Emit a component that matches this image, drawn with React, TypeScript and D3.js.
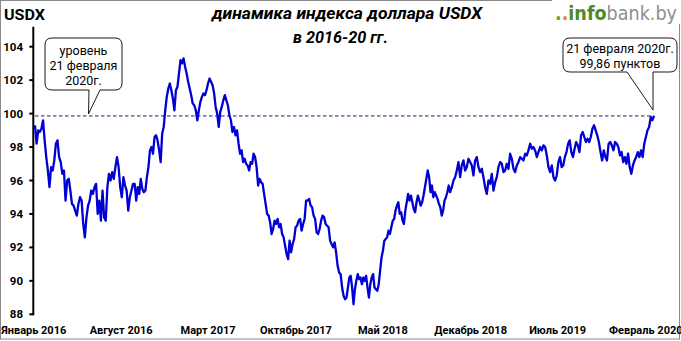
import React from "react";
import * as d3 from "d3";

const W = 681;
const H = 341;

const yTicks = [88, 90, 92, 94, 96, 98, 100, 102, 104];
const yAxisTop = 105.2;
const xTickDates = ["2016-01-01", "2016-08-01", "2017-03-01", "2017-10-01", "2018-05-01", "2018-12-01", "2019-07-01", "2020-02-01"];
const xTickLabels = ["Январь 2016", "Август 2016", "Март 2017", "Октябрь 2017", "Май 2018", "Декабрь 2018", "Июль 2019", "Февраль 2020"];

// boundaries of the reading periods (each period's values are spread evenly between its bounds)
const periodBounds = ["2016-01-04", "2016-09-03", "2017-05-18", "2018-01-29", "2018-10-12", "2019-06-25", "2020-02-21"];

const usdxP1 = [
  99.3, 98.2, 99.0, 98.9, 99.1, 99.6, 98.4, 97.4, 96.6, 95.6,
  96.8, 96.6, 97.2, 98.2, 98.4, 97.4, 97.1, 96.4, 96.6, 94.8,
  96.0, 96.1, 95.4, 94.6, 94.5, 94.2, 93.9, 94.6, 95.0, 94.8,
  93.4, 92.6, 93.8, 94.5, 94.8, 95.4, 95.2, 95.6, 95.8, 94.0,
  94.8, 93.6, 95.4, 93.8, 93.6, 95.6, 96.4, 96.0, 96.5, 96.1,
  96.8, 97.4, 96.8, 95.6, 95.0, 96.2, 95.7, 95.4, 94.2, 95.0,
  95.4, 95.8,
];
const usdxP2 = [
  95.8, 94.8, 95.6, 95.2, 96.1, 95.5, 95.3, 95.4, 96.2, 96.8,
  97.8, 98.0, 97.6, 98.6, 98.7, 98.4, 97.8, 97.1, 98.8, 99.2,
  100.2, 101.0, 101.5, 101.8, 101.4, 100.9, 100.2, 101.4, 101.6, 102.4,
  103.2, 103.0, 103.3, 102.8, 102.4, 101.9, 101.5, 101.1, 100.6, 100.5,
  100.2, 99.6, 100.2, 100.7, 101.0, 101.2, 101.1, 101.4, 101.8, 102.1,
  101.9, 101.7, 101.2, 100.4, 100.0, 99.2, 100.1, 100.4, 100.8, 101.1,
  100.8, 100.5, 99.9, 99.6, 98.9, 99.2, 98.7, 99.0, 98.2,
];
const usdxP3 = [
  97.6, 97.8, 97.1, 97.3, 97.0, 96.9, 96.6, 97.1, 97.0, 97.6,
  97.4, 96.8, 95.7, 96.1, 95.9, 95.8, 95.2, 94.6, 94.0, 93.9,
  93.5, 92.8, 93.1, 93.6, 93.4, 93.7, 93.2, 93.4, 92.8, 92.6,
  92.1, 91.6, 91.3, 92.4, 91.7, 92.2, 92.5, 93.2, 93.3, 93.6,
  93.7, 93.0, 93.4, 93.7, 94.8, 94.8, 94.9, 94.5, 94.4, 93.9,
  93.7, 92.9, 92.8, 93.1, 93.6, 93.9, 93.8, 93.4, 93.3, 93.2,
  92.4, 92.2, 92.0, 92.3, 91.7, 90.9, 90.5, 90.4, 89.6, 89.1,
];
const usdxP4 = [
  88.9, 89.0, 89.6, 90.2, 90.3, 89.6, 88.6, 89.5, 90.0, 90.4,
  90.1, 90.2, 89.8, 90.2, 90.0, 90.3, 89.6, 89.0, 89.8, 90.2,
  90.4, 89.6, 89.5, 89.4, 89.8, 90.6, 91.4, 91.8, 92.4, 92.5,
  92.6, 93.0, 92.8, 93.2, 93.6, 93.7, 94.2, 94.5, 94.7, 94.0,
  94.1, 93.6, 93.4, 94.2, 94.7, 95.2, 94.8, 95.1, 94.7, 94.3,
  94.1, 94.7, 95.1, 94.8, 94.5, 94.7, 95.1, 95.6, 96.1, 96.6,
  96.2, 95.3, 95.7, 95.0, 95.3, 95.1, 94.9, 94.6, 94.4, 93.9,
  94.2, 94.8, 95.0, 95.3, 95.7,
];
const usdxP5 = [
  95.3, 95.6, 96.0, 96.2, 96.6, 97.1, 96.2, 96.9, 97.2, 96.6,
  96.8, 97.3, 97.1, 96.9, 96.3, 97.2, 97.4, 96.8, 96.5, 96.7,
  96.2, 95.6, 95.2, 96.0, 95.8, 96.4, 95.4, 95.9, 96.2, 96.8,
  97.1, 97.0, 96.5, 96.6, 97.0, 96.7, 97.6, 97.3, 96.7, 96.5,
  96.9, 97.1, 97.4, 97.3, 97.2, 97.6, 97.5, 97.8, 98.2, 97.9,
  98.0, 97.8, 97.4, 97.7, 98.0, 97.8, 98.1, 98.0, 97.5, 96.8,
  96.5, 96.9, 96.2,
];
const usdxP6 = [
  96.0, 96.3, 97.1, 97.4, 96.8, 96.9, 97.4, 97.7, 98.2, 98.4,
  97.7, 97.4, 97.9, 98.3, 98.1, 97.7, 98.7, 98.9, 98.6, 98.3,
  98.5, 98.3, 98.6, 99.1, 99.3, 99.0, 98.7, 98.3, 97.7, 97.2,
  97.8, 97.4, 97.2, 98.2, 98.3, 98.1, 97.8, 98.3, 98.2, 98.0,
  97.5, 97.7, 97.1, 97.4, 97.0, 97.6, 96.8, 96.4, 96.9, 97.2,
  97.4, 97.7, 97.4, 97.8, 97.4, 98.2, 98.6, 99.0, 99.2, 99.8,
  99.6, 99.86,
];
const periods = [usdxP1, usdxP2, usdxP3, usdxP4, usdxP5, usdxP6];

const levelValue = 99.86;
const titleLines = ["динамика индекса доллара USDX", "в 2016-20 гг."];
const leftNote = ["уровень", "21 февраля", "2020г."];
const rightNote = ["21 февраля 2020г.", "99,86 пунктов"];

const FONT = "Roboto, 'Open Sans', 'Noto Sans', sans-serif";

function buildSeries() {
  const pts: { date: Date; value: number }[] = [];
  periods.forEach((vals, k) => {
    const s = new Date(periodBounds[k] + "T00:00:00Z").getTime();
    const e = new Date(periodBounds[k + 1] + "T00:00:00Z").getTime();
    const last = k === periods.length - 1;
    const n = last ? vals.length - 1 : vals.length;
    vals.forEach((v, i) => {
      pts.push({ date: new Date(s + ((e - s) * i) / n), value: v });
    });
  });
  return pts;
}

function calloutPath(x: number, y: number, w: number, h: number, r: number, t1: number, t2: number, tx: number, ty: number) {
  return [
    `M${x + r},${y}`,
    `H${x + w - r}`,
    `Q${x + w},${y} ${x + w},${y + r}`,
    `V${y + h - r}`,
    `Q${x + w},${y + h} ${x + w - r},${y + h}`,
    `H${t2}`,
    `L${tx},${ty}`,
    `L${t1},${y + h}`,
    `H${x + r}`,
    `Q${x},${y + h} ${x},${y + h - r}`,
    `V${y + r}`,
    `Q${x},${y} ${x + r},${y}`,
    "Z",
  ].join(" ");
}

export default function App() {
  const data = buildSeries();
  const start = new Date(periodBounds[0] + "T00:00:00Z");
  const end = new Date(periodBounds[periodBounds.length - 1] + "T00:00:00Z");
  const x = d3.scaleUtc().domain([start, end]).range([35, 654]);
  const y = d3.scaleLinear().domain([88, 104]).range([314.3, 46.7]);

  const line = d3
    .line<{ date: Date; value: number }>()
    .x((d) => x(d.date))
    .y((d) => y(d.value));

  const axisX = 33.3;
  const levelY = y(levelValue);
  const endX = x(end);

  return (
    <div style={{ position: "absolute", left: 0, top: 0 }}>
      <svg width={W} height={H} style={{ display: "block", background: "#fff" }} fontFamily={FONT}>
        <rect x={0.5} y={0.5} width={679} height={338.5} fill="#fff" stroke="#8a8a8a" strokeWidth={1} />

        {/* logo */}
        <rect x={552} y={0} width={129} height={24} fill="#fff" />
        <text x={677} y={20} textAnchor="end" fontFamily="'DejaVu Sans', sans-serif" fontSize={19} textLength={122} lengthAdjust="spacingAndGlyphs">
          <tspan fill="#6aa32c" fontWeight="bold">.</tspan>
          <tspan fill="#e8822a" fontWeight="bold">.</tspan>
          <tspan fill="#4f8a1e" fontWeight="bold">info</tspan>
          <tspan fill="#8e8e8e">bank</tspan>
          <tspan fill="#e8822a">.</tspan>
          <tspan fill="#8e8e8e">by</tspan>
        </text>

        {/* USDX label */}
        <text x={4} y={20} fontSize={15} fontWeight="bold" textLength={41} lengthAdjust="spacingAndGlyphs">USDX</text>

        {/* title */}
        <text x={347} y={19} textAnchor="middle" fontSize={16.5} fontWeight="bold" fontStyle="italic" textLength={270} lengthAdjust="spacingAndGlyphs">
          {titleLines[0]}
        </text>
        <text x={340.5} y={43} textAnchor="middle" fontSize={16.5} fontWeight="bold" fontStyle="italic" textLength={95} lengthAdjust="spacingAndGlyphs">
          {titleLines[1]}
        </text>

        {/* y axis */}
        <line x1={axisX} x2={axisX} y1={y(yAxisTop)} y2={y(88) + 1} stroke="#000" strokeWidth={2} />
        {yTicks.map((t) => (
          <g key={t}>
            <line x1={29.3} x2={axisX} y1={y(t)} y2={y(t)} stroke="#000" strokeWidth={2} />
            <text x={23} y={y(t) + 4} textAnchor="end" fontSize={11.5} fontWeight="bold">
              {t}
            </text>
          </g>
        ))}

        {/* x labels */}
        {xTickDates.map((d, i) => (
          <text key={d} x={x(new Date(d + "T00:00:00Z"))} y={334} textAnchor="middle" fontSize={11} fontWeight="bold">
            {xTickLabels[i]}
          </text>
        ))}

        {/* level line */}
        <line x1={35} x2={endX} y1={levelY} y2={levelY} stroke="#1c1c78" strokeWidth={1} strokeDasharray="3.5,2.5" />

        {/* series */}
        <path d={line(data) || ""} fill="none" stroke="#0000d2" strokeWidth={2.3} strokeLinejoin="round" />

        {/* left callout */}
        <path d={calloutPath(45, 38, 77, 52, 7, 89, 100, 88.5, levelY - 2)} fill="#fff" stroke="#000" strokeWidth={0.9} />
        {leftNote.map((t, i) => (
          <text key={t} x={83.5} y={55 + i * 15} textAnchor="middle" fontSize={12.5}>
            {t}
          </text>
        ))}

        {/* right callout */}
        <path d={calloutPath(563, 38, 114, 34, 7, 627, endX - 1, endX - 1, levelY - 6)} fill="#fff" stroke="#000" strokeWidth={0.9} />
        {rightNote.map((t, i) => (
          <text key={t} x={620} y={53 + i * 14.5} textAnchor="middle" fontSize={12.5}>
            {t}
          </text>
        ))}
      </svg>
    </div>
  );
}
